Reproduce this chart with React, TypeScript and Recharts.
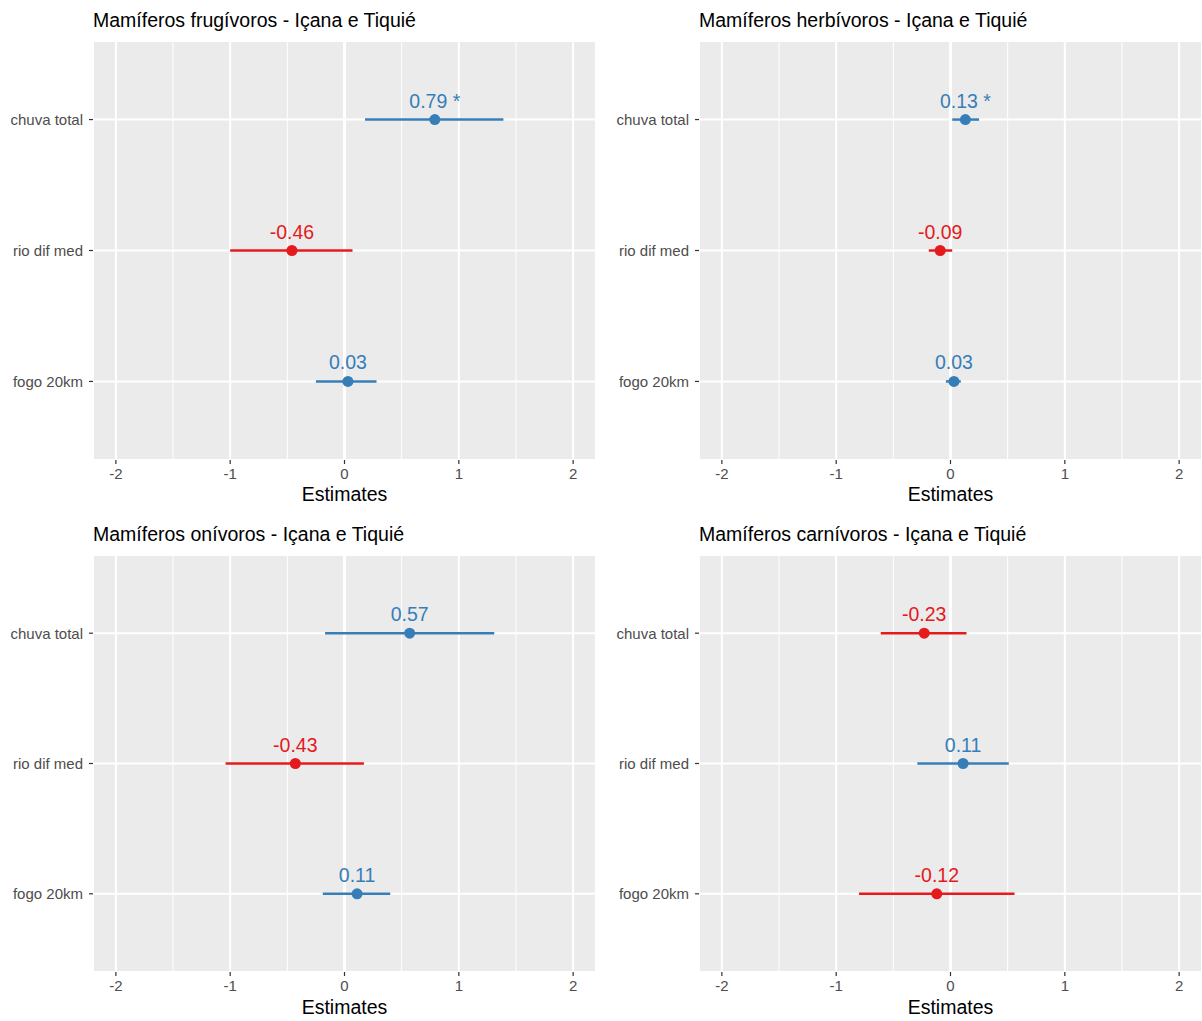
import React from 'react';
import {
  ComposedChart,
  Scatter,
  XAxis,
  YAxis,
  CartesianGrid,
  ReferenceLine,
  ErrorBar,
} from 'recharts';

const categories = ['chuva total', 'rio dif med', 'fogo 20km'];
const xTicks = [-2, -1, 0, 1, 2];
const xMinor = [-1.5, -0.5, 0.5, 1.5];

const frugEst = [0.79, -0.46, 0.03];
const frugLo = [0.18, -1.0, -0.25];
const frugHi = [1.39, 0.07, 0.28];
const frugSig = ['*', '', ''];

const herbEst = [0.13, -0.09, 0.03];
const herbLo = [0.015, -0.19, -0.04];
const herbHi = [0.25, 0.015, 0.09];
const herbSig = ['*', '', ''];

const oniEst = [0.57, -0.43, 0.11];
const oniLo = [-0.17, -1.04, -0.19];
const oniHi = [1.31, 0.17, 0.4];
const oniSig = ['', '', ''];

const carnEst = [-0.23, 0.11, -0.12];
const carnLo = [-0.61, -0.29, -0.8];
const carnHi = [0.14, 0.51, 0.56];
const carnSig = ['', '', ''];

const titles = [
  'Mamíferos frugívoros - Içana e Tiquié',
  'Mamíferos herbívoros - Içana e Tiquié',
  'Mamíferos onívoros - Içana e Tiquié',
  'Mamíferos carnívoros - Içana e Tiquié',
];

const BLUE = '#377EB8';
const RED = '#E41A1C';
const FONT = '"Liberation Sans", Arial, Helvetica, sans-serif';

type Row = { y: number; x: number; err: [number, number]; label: string };

function buildRows(est: number[], lo: number[], hi: number[], sig: string[]): Row[] {
  return est.map((e, i) => ({
    y: categories.length - i,
    x: e,
    err: [e - lo[i], hi[i] - e] as [number, number],
    label: e.toFixed(2) + (sig[i] ? ' ' + sig[i] : ''),
  }));
}

const makeShape = (color: string) => (props: any) => {
  const { cx, cy, payload } = props;
  return (
    <g>
      <circle cx={cx} cy={cy} r={5.5} fill={color} />
      <text
        x={cx}
        y={cy - 12}
        textAnchor="middle"
        fontSize={19.5}
        fill={color}
        fontFamily={FONT}
      >
        {payload.label}
      </text>
    </g>
  );
};

const yLabel = (v: number) => categories[categories.length - v] ?? '';

function Panel(props: {
  left: number;
  top: number;
  height: number;
  yAxisWidth: number;
  marginRight: number;
  title: string;
  est: number[];
  lo: number[];
  hi: number[];
  sig: string[];
  labelOffset: number;
}) {
  const rows = buildRows(props.est, props.lo, props.hi, props.sig);
  const pos = rows.filter((r) => r.x >= 0);
  const neg = rows.filter((r) => r.x < 0);
  return (
    <div style={{ position: 'absolute', left: props.left, top: props.top, width: 601, height: props.height }}>
      <div
        style={{
          position: 'absolute',
          left: props.yAxisWidth,
          top: 10.5,
          fontSize: 19.5,
          lineHeight: 1,
          whiteSpace: 'nowrap',
          color: '#000',
          fontFamily: FONT,
        }}
      >
        {props.title}
      </div>
      <ComposedChart
        width={601}
        height={props.height}
        margin={{ top: 41, right: props.marginRight, left: 0, bottom: 0 }}
      >
        <CartesianGrid
          fill="#EBEBEB"
          fillOpacity={1}
          stroke="#FFFFFF"
          strokeWidth={2}
        />
        <XAxis
          type="number"
          dataKey="x"
          domain={[-2.2, 2.2]}
          ticks={xTicks}
          interval={0}
          allowDataOverflow
          height={50}
          tickSize={4}
          tickMargin={4}
          axisLine={false}
          tickLine={{ stroke: '#333333', strokeWidth: 1.2 }}
          tick={{ fontSize: 15, fill: '#4D4D4D' }}
          label={{ value: 'Estimates', position: 'insideBottom', offset: props.labelOffset, fill: '#000', fontSize: 19.5 }}
        />
        <YAxis
          type="number"
          dataKey="y"
          domain={[0.4, 3.6]}
          ticks={[3, 2, 1]}
          interval={0}
          allowDataOverflow
          width={props.yAxisWidth}
          tickSize={4}
          tickMargin={6}
          axisLine={false}
          tickLine={{ stroke: '#333333', strokeWidth: 1.2 }}
          tick={{ fontSize: 15, fill: '#4D4D4D' }}
          tickFormatter={yLabel}
        />
        {xMinor.map((m) => (
          <ReferenceLine key={m} x={m} stroke="#FFFFFF" strokeWidth={1} />
        ))}
        <ReferenceLine x={0} stroke="#FFFFFF" strokeWidth={3} />
        <Scatter data={pos} fill={BLUE} shape={makeShape(BLUE)} isAnimationActive={false}>
          <ErrorBar dataKey="err" direction="x" width={0} stroke={BLUE} strokeWidth={2.5} isAnimationActive={false} />
        </Scatter>
        <Scatter data={neg} fill={RED} shape={makeShape(RED)} isAnimationActive={false}>
          <ErrorBar dataKey="err" direction="x" width={0} stroke={RED} strokeWidth={2.5} isAnimationActive={false} />
        </Scatter>
      </ComposedChart>
    </div>
  );
}

export default function App() {
  return (
    <div
      style={{
        position: 'absolute',
        left: 0,
        top: 0,
        width: 1202,
        height: 1021,
        background: '#FFFFFF',
        fontFamily: FONT,
        overflow: 'hidden',
      }}
    >
      <Panel left={0} top={0} height={510} yAxisWidth={93} marginRight={5} title={titles[0]}
        est={frugEst} lo={frugLo} hi={frugHi} sig={frugSig} labelOffset={9} />
      <Panel left={601} top={0} height={510} yAxisWidth={98} marginRight={0} title={titles[1]}
        est={herbEst} lo={herbLo} hi={herbHi} sig={herbSig} labelOffset={9} />
      <Panel left={0} top={514} height={508} yAxisWidth={93} marginRight={5} title={titles[2]}
        est={oniEst} lo={oniLo} hi={oniHi} sig={oniSig} labelOffset={8} />
      <Panel left={601} top={514} height={508} yAxisWidth={98} marginRight={0} title={titles[3]}
        est={carnEst} lo={carnLo} hi={carnHi} sig={carnSig} labelOffset={8} />
    </div>
  );
}
